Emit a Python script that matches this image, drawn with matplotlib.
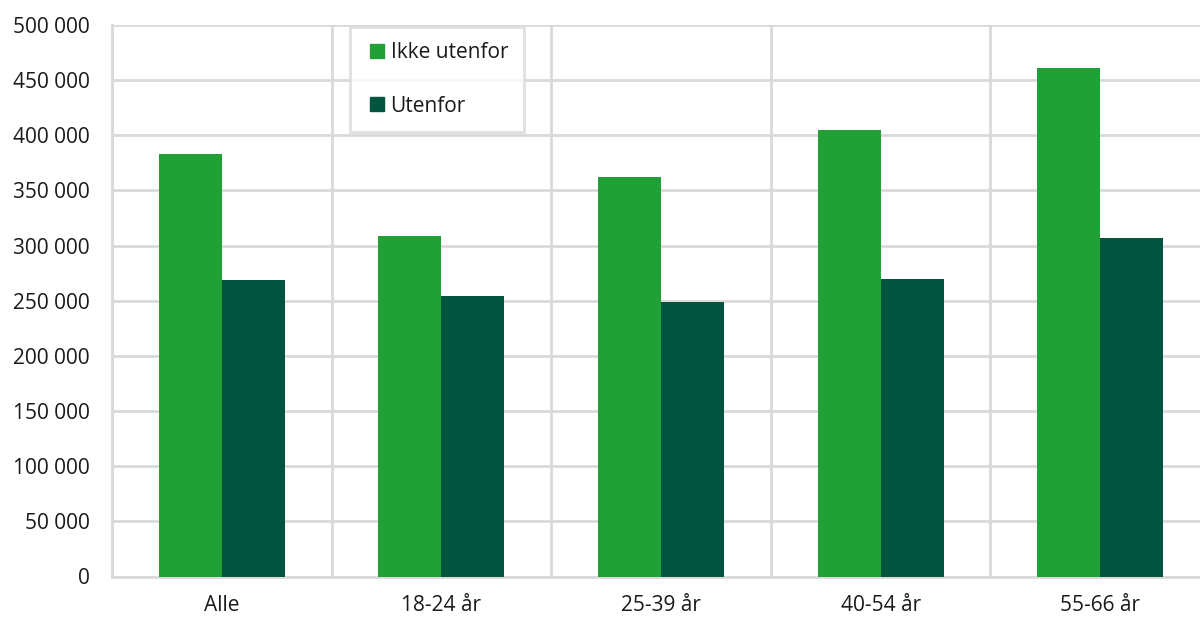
import numpy as np
import matplotlib.pyplot as plt
from matplotlib.lines import Line2D
from matplotlib.ticker import FuncFormatter, MultipleLocator

plt.rcParams['font.family'] = ['Open Sans', 'DejaVu Sans']

kategorier = ['Alle', '18-24 år', '25-39 år', '40-54 år', '55-66 år']
ikke_utenfor = [383000, 309000, 362000, 404500, 461000]
utenfor = [268500, 254000, 248500, 269500, 306500]

gronn = '#21a038'
mork = '#02543f'
grid = '#d9d9d9'

fig = plt.figure(figsize=(12, 6.18), dpi=100)
ax = fig.add_axes([112 / 1200, (618 - 576.5) / 618, 1098 / 1200, 551.5 / 618])

x = np.arange(len(kategorier))
w = 0.287
ax.bar(x - w / 2, ikke_utenfor, w, color=gronn, zorder=3)
ax.bar(x + w / 2, utenfor, w, color=mork, zorder=3)

ax.set_xlim(-0.5, len(kategorier) - 0.5)
ax.set_ylim(0, 500000)
ax.yaxis.set_major_locator(MultipleLocator(50000))
ax.yaxis.set_major_formatter(FuncFormatter(lambda v, p: f'{int(v):,}'.replace(',', ' ')))
ax.set_xticks(x)
ax.set_xticklabels(kategorier)
ax.set_xticks(np.arange(-0.5, len(kategorier), 1), minor=True)

ax.grid(axis='y', which='major', color=grid, linewidth=2, zorder=0)
ax.grid(axis='x', which='minor', color=grid, linewidth=2, zorder=0)
ax.grid(axis='x', which='major', visible=False)
for s in ['top', 'right']:
    ax.spines[s].set_visible(False)
for s in ['left', 'bottom']:
    ax.spines[s].set_color(grid)
    ax.spines[s].set_linewidth(2)

ax.tick_params(axis='both', which='both', length=0, labelsize=15, colors='#1a1a1a')
ax.tick_params(axis='y', pad=16)
ax.tick_params(axis='x', pad=13)

handles = [
    Line2D([], [], marker='s', linestyle='none', markersize=10, color=gronn),
    Line2D([], [], marker='s', linestyle='none', markersize=10, color=mork),
]
leg = ax.legend(handles, ['Ikke utenfor', 'Utenfor'], loc='upper left',
                bbox_to_anchor=(238 / 1098, 0.997), fontsize=15, frameon=True,
                fancybox=False, edgecolor=grid, labelspacing=1.55,
                handletextpad=0.1, handlelength=1.1, borderpad=0.75, borderaxespad=0)
leg.get_frame().set_linewidth(2)
for t in leg.get_texts():
    t.set_color('#1a1a1a')

fig.savefig('out.png', dpi=100)
